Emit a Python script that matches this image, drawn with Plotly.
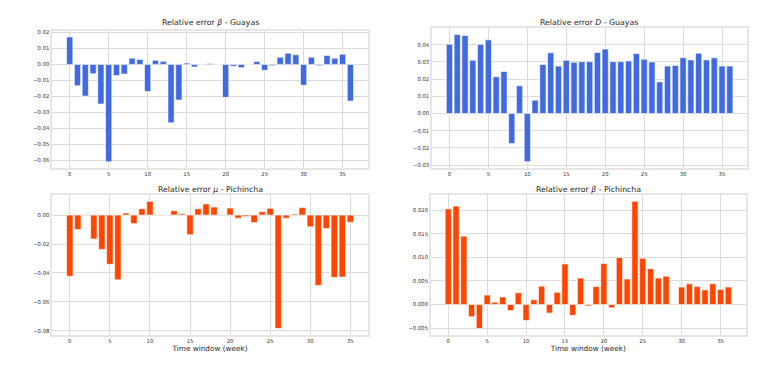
import plotly.graph_objects as go
from plotly.subplots import make_subplots

# relative errors per time window (week)
beta_guayas = [0.0171, -0.0134, -0.0198, -0.0058, -0.0247, -0.0608, -0.0070, -0.0060, 0.0039, 0.0031,
               -0.0169, 0.0025, 0.0019, -0.0365, -0.0223, 0.0008, -0.0016, -0.0002, 0.0006, 0.0000,
               -0.0206, -0.0012, -0.0021, 0.0000, 0.0018, -0.0037, -0.0008, 0.0045, 0.0070, 0.0060,
               -0.0130, 0.0045, -0.0008, 0.0056, 0.0039, 0.0064, -0.0229]
D_guayas = [0.0403, 0.0460, 0.0454, 0.0310, 0.0402, 0.0429, 0.0214, 0.0245, -0.0175, 0.0161,
            -0.0280, 0.0078, 0.0286, 0.0353, 0.0276, 0.0310, 0.0298, 0.0302, 0.0302, 0.0355,
            0.0375, 0.0302, 0.0302, 0.0306, 0.0349, 0.0316, 0.0300, 0.0184, 0.0276, 0.0280,
            0.0325, 0.0312, 0.0351, 0.0312, 0.0324, 0.0276, 0.0276]
mu_pichincha = [-0.0423, -0.0100, 0.0002, -0.0165, -0.0237, -0.0340, -0.0447, 0.0014, -0.0058, 0.0044,
                0.0095, -0.0002, 0.0001, 0.0030, 0.0009, -0.0135, 0.0044, 0.0077, 0.0056, 0.0002,
                0.0049, -0.0021, -0.0009, -0.0051, 0.0023, 0.0047, -0.0784, -0.0021, 0.0007, 0.0053,
                -0.0081, -0.0486, -0.0093, -0.0430, -0.0428, -0.0049]
beta_pichincha = [0.0203, 0.0209, 0.0145, -0.0026, -0.0051, 0.0020, 0.0005, 0.0016, -0.0013, 0.0025,
                  -0.0034, 0.0010, 0.0039, -0.0018, 0.0026, 0.0086, -0.0023, 0.0056, -0.0003, 0.0038,
                  0.0087, -0.0007, 0.0100, 0.0054, 0.0219, 0.0098, 0.0076, 0.0056, 0.0060, -0.0001,
                  0.0037, 0.0044, 0.0038, 0.0031, 0.0044, 0.0032, 0.0037]

titles = ["Relative error <i>β</i> - Guayas", "Relative error <i>D</i> - Guayas",
          "Relative error <i>μ</i> - Pichincha", "Relative error <i>β</i> - Pichincha"]

BLUE = "#4169E1"
RED = "#FF4500"

fig = make_subplots(rows=2, cols=2)

panels = [
    (beta_guayas, BLUE, 1, 1, 0.01, ".2f"),
    (D_guayas, BLUE, 1, 2, 0.01, ".2f"),
    (mu_pichincha, RED, 2, 1, 0.02, ".2f"),
    (beta_pichincha, RED, 2, 2, 0.005, ".3f"),
]

for vals, col, r, c, dt, fmt in panels:
    n = len(vals)
    fig.add_trace(go.Bar(x=list(range(n)), y=vals, marker_color=col,
                         marker_line=dict(color="white", width=0.6),
                         showlegend=False), row=r, col=c)
    lo, hi = min(vals), max(vals)
    pad = (hi - lo) * 0.05
    xpad = (n - 1 + 0.8) * 0.05
    fig.update_xaxes(range=[-0.4 - xpad, n - 1 + 0.4 + xpad], dtick=5, tick0=0, row=r, col=c)
    fig.update_yaxes(range=[lo - pad, hi + pad], dtick=dt, tickformat=fmt, row=r, col=c)

axstyle = dict(showgrid=True, gridcolor="#dcdcdc", gridwidth=1, zeroline=False,
               showline=True, mirror=True, linecolor="#e6e6e6", linewidth=1.5,
               ticks="", automargin=False,
               tickfont=dict(family="DejaVu Sans", size=5.3, color="#333333"))
fig.update_xaxes(**axstyle)
fig.update_yaxes(**axstyle)

# panel placement
fig.update_layout(
    xaxis=dict(domain=[0.068, 0.479]), yaxis=dict(domain=[0.552, 0.918]),
    xaxis2=dict(domain=[0.5625, 0.973]), yaxis2=dict(domain=[0.552, 0.925]),
    xaxis3=dict(domain=[0.068, 0.479]), yaxis3=dict(domain=[0.107, 0.48]),
    xaxis4=dict(domain=[0.561, 0.971]), yaxis4=dict(domain=[0.107, 0.48]),
)

fig.update_xaxes(title=dict(text="Time window (week)", font=dict(family="DejaVu Sans", size=7.3, color="#262626"),
                            standoff=2), row=2)

title_pos = [(0.2735, 0.941), (0.7675, 0.941), (0.2735, 0.496), (0.766, 0.496)]
for t, (x, y) in zip(titles, title_pos):
    fig.add_annotation(text=t, x=x, y=y, xref="paper", yref="paper", showarrow=False,
                       xanchor="center", yanchor="middle",
                       font=dict(family="DejaVu Sans", size=7.8, color="#262626"))

fig.update_layout(width=768, height=375, margin=dict(l=0, r=0, t=0, b=0),
                  paper_bgcolor="white", plot_bgcolor="white", bargap=0.2)

fig.write_html("out.html", config={"displayModeBar": False},
               post_script="document.body.style.margin='0';document.body.style.overflow='hidden';")
